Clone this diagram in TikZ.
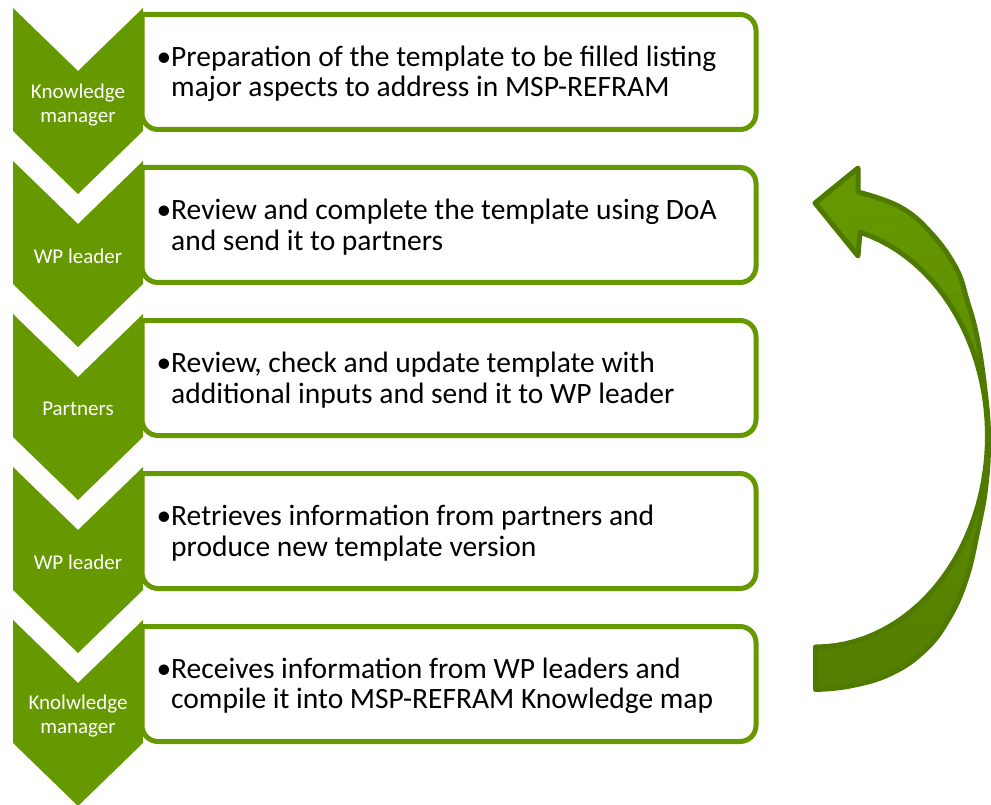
\documentclass[tikz,border=0pt]{standalone}
\usepackage{fontspec}
\setmainfont{Carlito}
\definecolor{mygreen}{RGB}{102,153,0}
\definecolor{arrowedge}{RGB}{79,122,0}
\definecolor{arrowdark}{RGB}{84,126,0}
\begin{document}
\begin{tikzpicture}[x=1pt,y=-1pt,
  chev/.style={fill=mygreen},
  chevlabel/.style={text=white, font=\fontsize{21}{24}\selectfont, align=center, inner sep=0pt},
  boxtext/.style={font=\fontsize{29.5}{30.5}\selectfont, align=left, anchor=west, inner sep=0pt, text=black},
  boxline/.style={draw=mygreen, line width=5pt, fill=white},
  arrowshape/.style={line width=5pt, draw=arrowedge, top color=mygreen, bottom color=arrowdark, line join=round}]
\useasboundingbox (0,0) rectangle (991,805);

% boxes
\path[boxline] (449,14.5) [rounded corners=16pt] -- (756,14.5) -- (756,129.5) -- (142,129.5) [sharp corners] -- (142,14.5) -- cycle;
\path[boxline] (449,167.5) [rounded corners=16pt] -- (756,167.5) -- (756,282.5) -- (142,282.5) [sharp corners] -- (142,167.5) -- cycle;
\path[boxline] (449,320.5) [rounded corners=16pt] -- (756,320.5) -- (756,435.5) -- (142,435.5) [sharp corners] -- (142,320.5) -- cycle;
\path[boxline] (449,473.5) [rounded corners=16pt] -- (756,473.5) -- (756,588.5) -- (142,588.5) [sharp corners] -- (142,473.5) -- cycle;
\path[boxline] (449,626.5) [rounded corners=16pt] -- (756,626.5) -- (756,741.5) -- (142,741.5) [sharp corners] -- (142,626.5) -- cycle;

% chevrons
\path[chev] (13,8) -- (78,71) -- (143,8) -- (143,131) -- (78,194) -- (13,131) -- cycle;
\path[chev] (13,161) -- (78,224) -- (143,161) -- (143,284) -- (78,347) -- (13,284) -- cycle;
\path[chev] (13,314) -- (78,377) -- (143,314) -- (143,437) -- (78,500) -- (13,437) -- cycle;
\path[chev] (13,467) -- (78,530) -- (143,467) -- (143,590) -- (78,653) -- (13,590) -- cycle;
\path[chev] (13,620) -- (78,683) -- (143,620) -- (143,743) -- (78,806) -- (13,743) -- cycle;

% labels
\node[chevlabel] (c1) at (78,105) {Knowledge\\manager};
\node[chevlabel] (c2) at (78,256) {WP leader};
\node[chevlabel] (c3) at (78,409) {Partners};
\node[chevlabel] (c4) at (78,562) {WP leader};
\node[chevlabel] (c5) at (78,716) {Knolwledge\\manager};

% texts
\node[boxtext] (t1) at (171,74) {\llap{•}Preparation of the template to be filled listing\\major aspects to address in MSP-REFRAM};
\node[boxtext] (t2) at (171,227) {\llap{•}Review and complete the template using DoA\\and send it to partners};
\node[boxtext] (t3) at (171,380) {\llap{•}Review, check and update template with\\additional inputs and send it to WP leader};
\node[boxtext] (t4) at (171,533) {\llap{•}Retrieves information from partners and\\produce new template version};
\node[boxtext] (t5) at (171,686) {\llap{•}Receives information from WP leaders and\\compile it into MSP-REFRAM Knowledge map};

% curved arrow
\path[arrowshape] (815,203) -- (858,168) -- (858,192)
  -- plot[smooth, tension=0.7] coordinates {(858,192) (900,207) (931,233) (956,268) (967,300) (977,337) (985,390) (988.5,437) (986,485) (978,530) (966,580) (948,620) (924,651) (890,674) (850,686) (815.5,689.5)}
  -- (815.5,647)
  -- plot[domain=90:-75, samples=50] ({815.5+172*cos(\x)},{436+211*sin(\x)})
  -- (858,256) -- cycle;
\end{tikzpicture}
\end{document}
